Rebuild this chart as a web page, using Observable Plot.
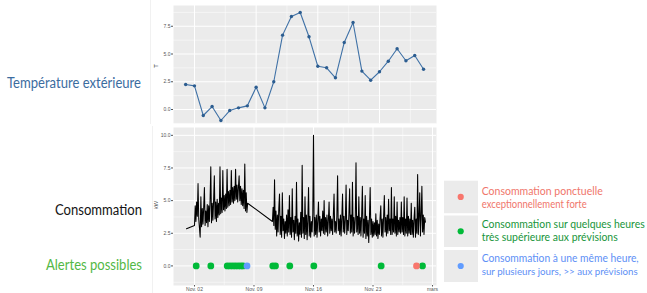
<!DOCTYPE html>
<html><head><meta charset="utf-8">
<script src="https://cdn.jsdelivr.net/npm/d3@7"></script>
<script src="https://cdn.jsdelivr.net/npm/@observablehq/plot@0.6"></script>
<style>
body{margin:0;background:#fff;}
#wrap{position:relative;width:647px;height:293px;overflow:hidden;background:#fff;font-family:Lato,"Open Sans",sans-serif;}
.abs{position:absolute;}
</style></head><body><div id="wrap"></div>
<script>
// ---- Temperature (daily, day of November)
const tempDays = [1,2,3,4,5,6,7,8,9,10,11,12,13,14,15,16,17,18,19,20,21,22,23,24,25,26,27,28];
const tempValues = [2.25,2.13,-0.54,0.27,-0.99,-0.09,0.15,0.33,2.0,0.15,2.5,6.7,8.38,8.74,6.55,3.9,3.76,2.86,6.04,7.84,3.46,2.64,3.4,4.35,5.47,4.39,4.87,3.63];
const tempYTicks = [0,2.5,5,7.5];

// ---- Consumption (kW), 2-hour readings
const consLeadDay = 1.06, consLeadValue = 2.85;
const seg1Start = 2.0, seg2Start = 11 + 4/24, consStep = 1/12;
const seg1Values = [
3.1,4.6,3.4,4.9,3.8,6.3,3.6,2.9,2.2,5.3,3.0,4.4,
3.2,4.5,6.0,3.1,4.2,3.3,4.7,3.0,4.6,3.4,5.0,7.6,
3.3,4.8,3.5,5.0,6.9,3.6,4.9,3.4,5.1,3.7,4.8,3.9,
7.6,4.0,5.2,4.1,7.3,4.3,5.4,4.2,5.5,4.4,7.4,4.5,
5.7,4.6,5.8,4.7,7.3,4.9,6.0,4.8,6.1,5.0,7.4,5.1,
6.2,4.9,6.0,6.9,5.0,6.1,4.7,5.9,4.6,5.8,4.4,7.8,
4.2,5.6,4.1,4.8];
const seg2Values = [
3.4,4.5,3.1,6.6,2.8,4.2,2.3,3.9,2.6,4.4,5.5,2.4,
3.8,2.2,5.6,2.7,3.6,2.1,3.4,2.5,3.9,2.3,4.3,2.6,
5.4,2.4,3.7,2.2,5.9,2.6,3.5,2.0,3.8,2.5,6.4,2.3,
3.6,1.9,3.3,2.4,4.1,2.2,7.7,2.5,3.7,2.1,5.3,2.4,
3.9,2.0,3.5,6.0,2.3,3.8,2.2,3.4,2.6,4.0,10.0,2.3,
3.7,2.4,3.9,2.2,3.5,4.9,2.6,3.8,2.3,3.6,2.7,4.2,
2.5,5.0,2.4,3.7,2.6,3.9,2.3,3.5,4.9,2.5,3.8,2.7,
3.6,2.4,3.9,5.5,2.6,3.4,2.5,3.8,6.9,2.7,3.6,2.4,
3.9,2.3,3.7,5.5,2.6,3.8,2.5,3.6,6.2,2.4,3.5,2.7,
4.0,5.9,2.5,3.9,2.6,6.4,2.3,3.7,2.5,3.6,7.9,2.6,
3.8,2.4,5.3,2.5,3.7,2.3,3.9,6.1,2.2,3.6,2.5,5.4,
2.1,3.8,2.3,3.5,1.8,3.7,6.0,2.4,3.6,2.2,3.4,2.3,
3.3,2.4,4.0,2.3,3.5,2.1,3.2,2.4,3.7,4.6,2.3,3.6,
2.2,3.8,5.4,2.6,3.7,2.3,3.9,2.5,5.1,2.7,3.6,2.4,
6.0,2.4,3.6,2.6,5.3,2.5,3.8,2.3,4.9,2.4,3.5,2.6,
3.7,2.5,4.9,2.6,3.7,2.4,5.3,2.3,3.6,2.5,5.2,2.3,
3.8,2.5,3.6,2.4,4.8,2.4,3.5,2.2,3.7,4.5,2.2,3.6,
2.5,7.0,2.4,3.7,5.6,2.3,3.8,6.1,2.6,3.9,2.4,3.7,
3.35];
const consYTicks = [0,2.5,5,7.5,10];
const consXTicks = [2,9,16,23,30];
const consXLabels = ["Nov. 02","Nov. 09","Nov. 16","Nov. 23","mars"];

// ---- Alerts (day of November, type)
const alertDays  = [2.2,3.92,5.85,6.18,6.51,6.82,7.14,7.45,7.71,8.18,11.21,11.53,13.21,16.04,23.96,28.12,28.82];
const alertTypes = ["green","green","green","green","green","green","green","green","green","blue","green","green","green","green","green","red","green"];
const alertColors = {red:"#F8766D", green:"#00BA38", blue:"#619CFF"};

// ---- Legend
const legendTypes = ["red","green","blue"];
const legendLines = [
  ["Consommation ponctuelle","exceptionnellement forte"],
  ["Consommation sur quelques heures","très supérieure aux prévisions"],
  ["Consommation à une même heure,","sur plusieurs jours, >> aux prévisions"]
];
const legendTextColors = {red:"#F0766B", green:"#17953A", blue:"#5E90F6"};

const wrap = document.getElementById("wrap");

const tempData = tempDays.map((d,i)=>({day:d, t:tempValues[i]}));
const consData = [{day:consLeadDay, kw:consLeadValue},
  ...seg1Values.map((v,i)=>({day:seg1Start+i*consStep, kw:v})),
  ...seg2Values.map((v,i)=>({day:seg2Start+i*consStep, kw:v}))];
const alertData = alertDays.map((d,i)=>({day:d, type:alertTypes[i]}));

const majorX = [2,9,16,23,30];
const minorX = [5.5,12.5,19.5,26.5];

function grid(xDom, yDom, yMajor){
  const yMinor = [];
  for (let i=0;i<yMajor.length-1;i++) yMinor.push((yMajor[i]+yMajor[i+1])/2);
  yMinor.push(yMajor[0]-(yMajor[1]-yMajor[0])/2, yMajor[yMajor.length-1]+(yMajor[1]-yMajor[0])/2);
  const inX = v=>v>=xDom[0]&&v<=xDom[1], inY = v=>v>=yDom[0]&&v<=yDom[1];
  return [
    Plot.frame({fill:"#EBEBEB", stroke:null}),
    Plot.ruleX(minorX.filter(inX), {stroke:"#fff", strokeWidth:0.5}),
    Plot.ruleY(yMinor.filter(inY), {stroke:"#fff", strokeWidth:0.5}),
    Plot.ruleX(majorX.filter(inX), {stroke:"#fff", strokeWidth:1}),
    Plot.ruleY(yMajor.filter(inY), {stroke:"#fff", strokeWidth:1})
  ];
}

const topDomX = [-0.38, 29.47], topDomY = [-1.26, 9.37];
const topPlot = Plot.plot({
  width:300, height:126, marginLeft:33, marginRight:4, marginTop:5, marginBottom:3,
  x:{domain:topDomX, axis:null}, y:{domain:topDomY, axis:null},
  style:{background:"transparent", overflow:"visible", fontFamily:"Liberation Sans, sans-serif"},
  marks:[
    ...grid(topDomX, topDomY, tempYTicks),
    Plot.axisY({ticks:tempYTicks, tickFormat:d=>d.toFixed(1), tickSize:2, tickPadding:1, fontSize:5, label:null, color:"#555"}),
    Plot.line(tempData, {x:"day", y:"t", stroke:"#3f71a6", strokeWidth:1.1}),
    Plot.dot(tempData, {x:"day", y:"t", r:1.7, fill:"#2c5d90", stroke:null})
  ]
});
topPlot.classList.add("abs"); topPlot.style.left="140px"; topPlot.style.top="0px";
wrap.appendChild(topPlot);

const botDomX = [-0.47, 30.47], botDomY = [-1.5, 10.6];
const botPlot = Plot.plot({
  width:300, height:168, marginLeft:33, marginRight:4, marginTop:2, marginBottom:8,
  x:{domain:botDomX, axis:null}, y:{domain:botDomY, axis:null},
  style:{background:"transparent", overflow:"visible", fontFamily:"Liberation Sans, sans-serif"},
  marks:[
    ...grid(botDomX, botDomY, consYTicks),
    Plot.axisY({ticks:consYTicks, tickFormat:d=>d.toFixed(1), tickSize:2, tickPadding:1, fontSize:5, label:null, color:"#555"}),
    Plot.axisX({ticks:consXTicks, tickFormat:(d,i)=>consXLabels[consXTicks.indexOf(d)], tickSize:1.5, tickPadding:0.5, fontSize:5, label:null, color:"#555"}),
    Plot.line(consData, {x:"day", y:"kw", stroke:"#000", strokeWidth:1.05}),
    Plot.dot(alertData.filter(d=>d.type==="green"), {x:"day", y:()=>0, r:3.4, fill:alertColors.green, stroke:null}),
    Plot.dot(alertData.filter(d=>d.type==="red"), {x:"day", y:()=>0, r:3.4, fill:alertColors.red, stroke:null}),
    Plot.dot(alertData.filter(d=>d.type==="blue"), {x:"day", y:()=>0, r:3.4, fill:alertColors.blue, stroke:null})
  ]
});
botPlot.classList.add("abs"); botPlot.style.left="140px"; botPlot.style.top="125px";
wrap.appendChild(botPlot);

// ---- Overlay: labels, axis titles, legend
const NS="http://www.w3.org/2000/svg";
const ov=document.createElementNS(NS,"svg");
ov.setAttribute("width",647); ov.setAttribute("height",293);
ov.setAttribute("class","abs"); ov.style.left="0"; ov.style.top="0";
wrap.appendChild(ov);
function txt(s,x,y,size,fill,len,rot){
  const t=document.createElementNS(NS,"text");
  t.textContent=s; t.setAttribute("x",x); t.setAttribute("y",y);
  t.setAttribute("font-size",size); t.setAttribute("fill",fill);
  t.setAttribute("font-family","Lato, Open Sans, sans-serif");
  if(len){t.setAttribute("textLength",len); t.setAttribute("lengthAdjust","spacingAndGlyphs");}
  if(rot){t.setAttribute("transform",`rotate(-90 ${x} ${y})`); t.setAttribute("text-anchor","middle");}
  ov.appendChild(t); return t;
}
function line(x1,y1,x2,y2,c){
  const l=document.createElementNS(NS,"line");
  l.setAttribute("x1",x1);l.setAttribute("y1",y1);l.setAttribute("x2",x2);l.setAttribute("y2",y2);
  l.setAttribute("stroke",c); l.setAttribute("stroke-width",0.8); ov.appendChild(l);
}
line(150.5,0,150.5,124,"#eeeeee");
line(152.5,126,152.5,293,"#eeeeee");

txt("Température extérieure",7,87.5,14.5,"#3B6C9F",134);
txt("Consommation",55,215,14.5,"#141414",87);
txt("Alertes possibles",46,270,14.5,"#52B845",96);
txt("T",157.5,66,6,"#333",null,true);
txt("kW",157.5,205,5.5,"#333",null,true);

const boxY=[180.7,215.5,250], boxH=[32.5,31.5,32];
const textBase=[[194.5,207.5],[227.8,241.2],[261.5,275]];
const textLen=[[121,105],[163,136],[157,156]];
const textSize=[[10.5,10.5],[10.5,10.5],[10.5,9.8]];
legendTypes.forEach((k,i)=>{
  const r=document.createElementNS(NS,"rect");
  r.setAttribute("x",444); r.setAttribute("y",boxY[i]); r.setAttribute("width",34); r.setAttribute("height",boxH[i]);
  r.setAttribute("fill","#EBEBEB"); ov.appendChild(r);
  const c=document.createElementNS(NS,"circle");
  c.setAttribute("cx",460.7); c.setAttribute("cy",boxY[i]+boxH[i]/2); c.setAttribute("r",3.1);
  c.setAttribute("fill",alertColors[k]); ov.appendChild(c);
  legendLines[i].forEach((s,j)=>txt(s,481.7,textBase[i][j],textSize[i][j],legendTextColors[k],textLen[i][j]));
});
</script></body></html>
